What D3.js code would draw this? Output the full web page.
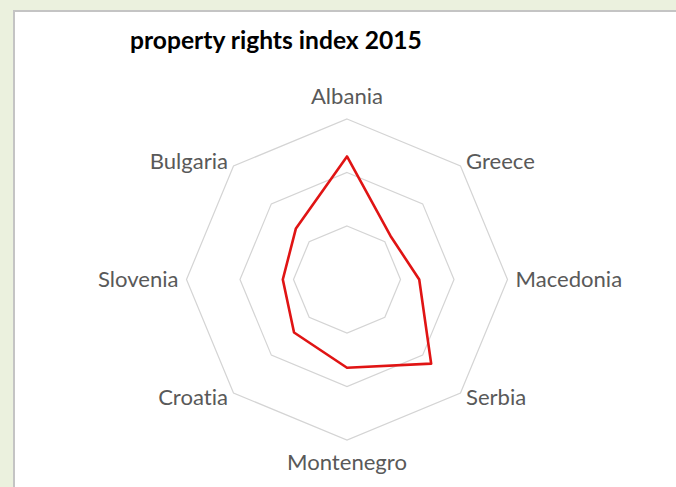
<!DOCTYPE html>
<html><head><meta charset="utf-8"><script src="https://cdn.jsdelivr.net/npm/d3@7"></script>
<style>body{margin:0;background:#ebf1de} text{font-variant-ligatures:none;font-feature-settings:"liga" 0,"clig" 0}</style></head>
<body>
<svg id="chart" width="676" height="487"></svg>
<script>
// ---- data ----
const categories = ["Albania","Greece","Macedonia","Serbia","Montenegro","Croatia","Slovenia","Bulgaria"];
const values     = [4.6, 2.3, 2.7, 4.45, 3.3, 2.8, 2.4, 2.7];
const ringTicks  = [2, 4, 6];
const title      = "property rights index 2015";

// ---- layout ----
const W = 676, H = 487;
const cx = 347, cy = 279.5, R = 160.5;
const svg = d3.select("#chart");

svg.append("rect").attr("x", 0).attr("y", 0).attr("width", W).attr("height", H).attr("fill", "#ebf1de");
svg.append("rect").attr("x", 14).attr("y", 11).attr("width", W + 20).attr("height", H + 20)
  .attr("fill", "#ffffff").attr("stroke", "#c4c4c4").attr("stroke-width", 2);

const r = d3.scaleLinear().domain([0, 6]).range([0, R]);
const angle = d3.scalePoint().domain(categories).range([0, 2 * Math.PI * (1 - 1 / categories.length)]);

const pt = (cat, v) => {
  const a = angle(cat);
  return [cx + Math.sin(a) * r(v), cy - Math.cos(a) * r(v)];
};

// grid rings
const g = svg.append("g");
ringTicks.forEach(t => {
  g.append("path")
    .attr("d", d3.line()(categories.map(c => pt(c, t))) + "Z")
    .attr("fill", "none").attr("stroke", "#d4d4d4").attr("stroke-width", 1.2);
});

// series
svg.append("path")
  .attr("d", d3.line()(categories.map((c, i) => pt(c, values[i]))) + "Z")
  .attr("fill", "none").attr("stroke", "#e01414").attr("stroke-width", 2.6)
  .attr("stroke-linejoin", "round");

// font fit helper
function fitSize(family, weight, text, target) {
  const t = svg.append("text").attr("x", -2000).attr("y", -2000)
    .style("font-family", family).style("font-weight", weight).style("font-size", "100px").text(text);
  const w = t.node().getComputedTextLength();
  t.remove();
  return 100 * target / w;
}
const labelFont = "Lato, 'Open Sans', sans-serif";
const labelSize = fitSize(labelFont, "normal", "Montenegro", 120);
const titleSize = fitSize(labelFont, "bold", title, 292);

// category labels
categories.forEach(c => {
  const a = angle(c);
  const [vx, vy] = pt(c, 6);
  const s = Math.sin(a), co = Math.cos(a);
  let anchor = Math.abs(s) < 0.01 ? "middle" : (s > 0 ? "start" : "end");
  let x = vx + (Math.abs(s) < 0.01 ? 0 : (Math.abs(co) < 0.01 ? 8 : 5.5) * Math.sign(s));
  let y;
  if (co > 0.99) y = vy - 15;
  else if (co < -0.99) y = vy + 30;
  else if (co > 0.01) y = vy + 3;
  else if (co < -0.01) y = vy + 12;
  else y = vy + 7;
  svg.append("text").attr("x", x).attr("y", y).attr("text-anchor", anchor)
    .style("font-family", labelFont).style("font-size", labelSize + "px")
    .attr("fill", "#595959").text(c);
});

// title
svg.append("text").attr("x", 130).attr("y", 48.5)
  .style("font-family", labelFont).style("font-weight", "bold").style("font-size", titleSize + "px")
  .attr("fill", "#000").text(title);
</script></body></html>
